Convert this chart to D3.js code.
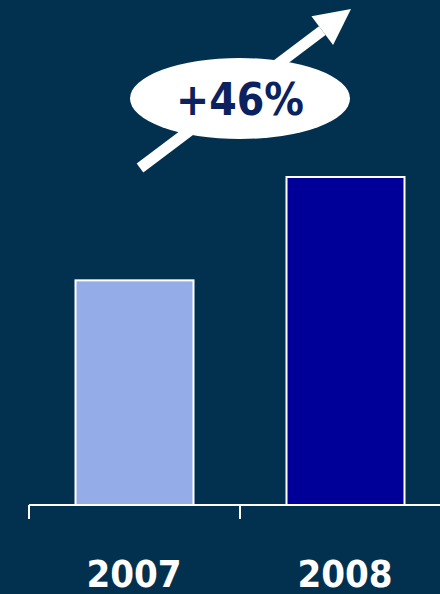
<!DOCTYPE html>
<html>
<head>
<meta charset="utf-8">
<script src="https://cdn.jsdelivr.net/npm/d3@7"></script>
<style>
  body { margin: 0; background: #02314f; }
  svg { display: block; }
</style>
</head>
<body>
<div id="plot"></div>
<script>
  const years = ["2007", "2008"];
  const values = [100, 146];
  const barColors = ["#94ace8", "#000099"];
  const growthLabel = "+46%";

  const w = 440;
  const h = 594;
  const baseY = 505;
  const font = "'DejaVu Sans Condensed', 'DejaVu Sans', sans-serif";

  const svg = d3.select("div#plot")
      .append("svg")
      .attr("width", w)
      .attr("height", h);

  svg.append("rect")
      .attr("width", w)
      .attr("height", h)
      .attr("fill", "#02314f");

  const xScale = d3.scaleBand()
      .domain(years)
      .range([29, 451]);

  const yScale = d3.scaleLinear()
      .domain([0, 146])
      .range([baseY, 177]);

  const barW = 118;

  // bars
  svg.append("g")
      .selectAll("rect")
      .data(values)
      .enter().append("rect")
      .attr("x", (d, i) => xScale(years[i]) + xScale.bandwidth() / 2 - barW / 2)
      .attr("y", d => yScale(d))
      .attr("width", barW)
      .attr("height", d => baseY - yScale(d))
      .attr("fill", (d, i) => barColors[i])
      .attr("stroke", "white")
      .attr("stroke-width", 2);

  // axis line with ticks on band edges
  const axis = svg.append("g").attr("stroke", "white").attr("stroke-width", 2);
  axis.append("line")
      .attr("x1", xScale.range()[0]).attr("x2", w)
      .attr("y1", baseY).attr("y2", baseY);
  axis.selectAll("line.tick")
      .data(years)
      .enter().append("line")
      .attr("class", "tick")
      .attr("x1", d => xScale(d)).attr("x2", d => xScale(d))
      .attr("y1", baseY).attr("y2", baseY + 14);

  // year labels
  svg.append("g")
      .selectAll("text")
      .data(years)
      .enter().append("text")
      .attr("x", d => xScale(d) + xScale.bandwidth() / 2 - 0.5)
      .attr("y", 587)
      .attr("text-anchor", "middle")
      .style("font-family", font)
      .style("font-stretch", "condensed")
      .style("font-weight", "bold")
      .style("font-size", "38px")
      .style("fill", "white")
      .text(d => d);

  // growth arrow
  const x0 = 140, y0 = 168, x1 = 351, y1 = 9;
  const ang = Math.atan2(y1 - y0, x1 - x0);
  const headLen = 36, headHalf = 18;
  const bx = x1 - headLen * Math.cos(ang), by = y1 - headLen * Math.sin(ang);
  const nx = -Math.sin(ang), ny = Math.cos(ang);

  svg.append("line")
      .attr("x1", x0).attr("y1", y0)
      .attr("x2", bx).attr("y2", by)
      .attr("stroke", "white")
      .attr("stroke-width", 11);

  svg.append("polygon")
      .attr("points", [
        [x1, y1],
        [bx + nx * headHalf, by + ny * headHalf],
        [bx - nx * headHalf, by - ny * headHalf]
      ].map(p => p.join(",")).join(" "))
      .attr("fill", "white");

  svg.append("ellipse")
      .attr("cx", 240).attr("cy", 98.5)
      .attr("rx", 110).attr("ry", 40.5)
      .attr("fill", "white");

  svg.append("text")
      .attr("x", 240)
      .attr("y", 115)
      .attr("text-anchor", "middle")
      .style("font-family", font)
      .style("font-stretch", "condensed")
      .style("font-weight", "bold")
      .style("font-size", "44px")
      .style("fill", "#0b2160")
      .text(growthLabel);
</script>
</body>
</html>
